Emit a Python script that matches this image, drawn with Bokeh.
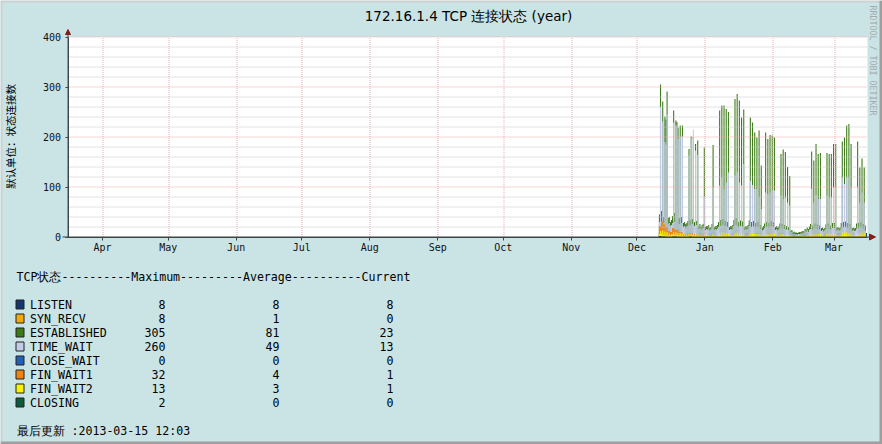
import math
import numpy as np
import pandas as pd
from bokeh.plotting import figure
from bokeh.models import (Range1d, LinearAxis, DatetimeAxis, MonthsTicker, DatetimeTickFormatter,
                          FixedTicker, Label, BoxAnnotation, Arrow, NormalHead, ColumnDataSource)
from bokeh.embed import file_html
from bokeh.resources import INLINE

# ---------------- data ----------------
data_start = "2012-12-11"          # first day with samples; one night-sample and one day-sample per day
range_start = "2012-03-16 00:00"
range_end = "2013-03-16 06:00"

y_ticks = [0, 100, 200, 300, 400]
y_minor = [20, 40, 60, 80, 120, 140, 160, 180, 220, 240, 260, 280, 320, 340, 360, 380]

# ESTABLISHED, daytime peak (Dec 11 .. Mar 15)
est_hi = [305, 271, 241, 291, 40, 34, 253, 233, 219, 223, 223, 30, 28, 176, 201, 200, 186, 193, 26, 24, 179,
          22, 24, 20, 184, 22, 24, 253, 263, 263, 256, 250, 22, 24, 276, 286, 273, 239, 255, 22, 24,
          239, 229, 209, 199, 213, 143, 22, 209, 196, 204, 203,
          199, 22, 21, 166, 175, 170, 140, 122, 14, 11, 9, 9, 10, 12, 16, 19, 21, 171, 153, 186,
          166, 168, 19, 18, 168, 166, 166, 186,
          186, 20, 19, 191, 199, 223, 226, 186, 19, 18, 191, 139, 157, 139, float("nan")]
# ESTABLISHED, night level
est_lo = [45, 52, 40, 235, 38, 30, 42, 48, 230, 38, 40, 28, 26, 32, 34, 36, 30, 32, 22, 20, 26,
          20, 22, 18, 26, 20, 22, 30, 34, 36, 32, 30, 20, 22, 34, 38, 30, 33, 31, 20, 22,
          33, 30, 32, 28, 30, 24, 19, 27, 30, 28, 32,
          30, 20, 19, 27, 26, 24, 22, 20, 13, 10, 9, 8, 10, 11, 12, 15, 16, 26, 23, 27,
          25, 23, 18, 16, 25, 27, 23, 28,
          28, 19, 18, 28, 30, 31, 28, 26, 18, 17, 27, 28, 30, 26, 23]
# TIME_WAIT, daytime peak
tw_hi = [260, 231, 190, 246, 28, 24, 229, 224, 196, 201, 201, 22, 20, 163, 197, 215, 173, 164, 18, 17, 80,
         16, 17, 15, 99, 16, 17, 103, 119, 96, 109, 129, 16, 17, 123, 130, 109, 103, 146, 16, 17,
         113, 104, 96, 96, 79, 56, 15, 89, 86, 89, 93,
         93, 16, 15, 83, 76, 79, 69, 63, 10, 7, 6, 6, 7, 8, 12, 14, 15, 96, 69, 84,
         76, 76, 14, 13, 83, 79, 79, 99,
         99, 15, 14, 119, 106, 119, 119, 99, 14, 13, 99, 69, 89, 69, float("nan")]
# TIME_WAIT, night level
tw_lo = [30, 32, 28, 185, 26, 22, 28, 30, 220, 26, 28, 20, 18, 22, 24, 26, 22, 24, 16, 15, 18,
         14, 15, 13, 18, 14, 15, 20, 22, 24, 22, 20, 14, 15, 22, 24, 20, 22, 21, 14, 15,
         22, 20, 21, 19, 20, 16, 13, 18, 20, 19, 21,
         20, 14, 13, 18, 17, 16, 15, 14, 9, 6, 5, 5, 6, 7, 8, 10, 10, 16, 15, 17,
         16, 15, 12, 11, 16, 17, 15, 18,
         18, 13, 12, 18, 19, 20, 18, 17, 12, 12, 17, 18, 19, 17, 13]
listen = [8, 8, 8, 8, 8, 8, 8, 8, 8, 8, 8, 8, 8, 8, 8, 8, 8, 8, 8, 8, 8,
          8, 8, 8, 8, 8, 8, 8, 8, 8, 8, 8, 8, 8, 8, 8, 8, 8, 8, 8, 8,
          8, 8, 8, 8, 8, 8, 8, 8, 8, 8, 8,
          8, 8, 8, 8, 8, 8, 8, 8, 8, 8, 8, 8, 8, 8, 8, 8, 8, 8, 8, 8,
          8, 8, 8, 8, 8, 8, 8, 8,
          8, 8, 8, 8, 8, 8, 8, 8, 8, 8, 8, 8, 8, 8, 8]
syn_recv = [8, 4, 3, 2, 0, 0, 3, 2, 2, 1, 1, 0, 0, 1, 1, 1, 1, 1, 0, 0, 1,
            0, 0, 0, 1, 0, 0, 1, 1, 1, 1, 1, 0, 0, 1, 1, 1, 1, 1, 0, 0,
            1, 1, 1, 1, 1, 0, 0, 1, 1, 1, 1,
            1, 0, 0, 1, 1, 1, 1, 1, 0, 0, 0, 0, 0, 0, 0, 0, 0, 1, 1, 1,
            1, 1, 0, 0, 1, 1, 1, 1,
            1, 0, 0, 1, 1, 1, 1, 1, 0, 0, 1, 1, 1, 1, 0]
close_wait = [0, 0, 0, 0, 0, 0, 0, 0, 0, 0, 0, 0, 0, 0, 0, 0, 0, 0, 0, 0, 0,
              0, 0, 0, 0, 0, 0, 0, 0, 0, 0, 0, 0, 0, 0, 0, 0, 0, 0, 0, 0,
              0, 0, 0, 0, 0, 0, 0, 0, 0, 0, 0,
              0, 0, 0, 0, 0, 0, 0, 0, 0, 0, 0, 0, 0, 0, 0, 0, 0, 0, 0, 0,
              0, 0, 0, 0, 0, 0, 0, 0,
              0, 0, 0, 0, 0, 0, 0, 0, 0, 0, 0, 0, 0, 0, 0]
fin_wait1 = [22, 32, 25, 20, 12, 10, 18, 15, 14, 10, 9, 5, 4, 6, 7, 8, 6, 5, 3, 3, 4,
             2, 2, 2, 3, 2, 2, 4, 3, 3, 3, 4, 2, 2, 3, 3, 3, 2, 3, 1, 2,
             3, 3, 2, 3, 2, 2, 1, 3, 2, 3, 3,
             3, 2, 1, 3, 3, 2, 2, 2, 1, 1, 1, 1, 1, 1, 1, 2, 2, 3, 3, 4,
             3, 3, 2, 1, 3, 3, 4, 3,
             3, 2, 2, 3, 3, 3, 3, 2, 2, 1, 3, 3, 4, 3, 1]
# FIN_WAIT2, daytime and night
fin_wait2_hi = [12, 13, 11, 10, 7, 6, 10, 9, 8, 8, 7, 5, 4, 6, 7, 8, 7, 6, 4, 4, 5,
                3, 3, 2, 6, 3, 3, 8, 9, 9, 8, 7, 3, 3, 8, 9, 8, 7, 7, 3, 3,
                7, 7, 6, 6, 6, 5, 3, 6, 6, 6, 7,
                6, 3, 3, 6, 6, 5, 5, 4, 2, 1, 1, 1, 1, 2, 2, 3, 3, 6, 6, 7,
                6, 6, 3, 2, 7, 8, 6, 7,
                7, 3, 3, 8, 9, 9, 8, 7, 3, 3, 8, 8, 9, 8, float("nan")]
fin_wait2_lo = [6, 7, 5, 5, 3, 3, 5, 4, 4, 4, 3, 2, 2, 3, 3, 4, 3, 3, 2, 2, 2,
                1, 1, 1, 3, 1, 1, 4, 4, 4, 4, 3, 1, 1, 4, 4, 4, 3, 3, 1, 1,
                3, 3, 3, 3, 3, 2, 1, 3, 3, 3, 3,
                3, 1, 1, 3, 3, 2, 2, 2, 1, 0, 0, 0, 0, 1, 1, 1, 1, 3, 3, 3,
                3, 3, 1, 1, 3, 4, 3, 3,
                3, 1, 1, 4, 4, 4, 4, 3, 1, 1, 4, 4, 4, 4, 1]
closing = [2, 1, 1, 0, 0, 0, 1, 1, 0, 0, 0, 0, 0, 0, 1, 0, 0, 0, 0, 0, 0,
           0, 0, 0, 0, 0, 0, 0, 0, 0, 0, 0, 0, 0, 0, 0, 0, 0, 0, 0, 0,
           0, 0, 0, 0, 0, 0, 0, 0, 0, 0, 0,
           0, 0, 0, 0, 0, 0, 0, 0, 0, 0, 0, 0, 0, 0, 0, 0, 0, 0, 0, 0,
           0, 0, 0, 0, 0, 0, 0, 0,
           0, 0, 0, 0, 0, 0, 0, 0, 0, 0, 0, 0, 0, 0, 0]

legend_names = ["LISTEN", "SYN_RECV", "ESTABLISHED", "TIME_WAIT", "CLOSE_WAIT", "FIN_WAIT1", "FIN_WAIT2", "CLOSING"]
legend_max = [8, 8, 305, 260, 0, 32, 13, 2]
legend_avg = [8, 1, 81, 49, 0, 4, 3, 0]
legend_cur = [8, 0, 23, 13, 0, 1, 1, 0]

title_text = "172.16.1.4 TCP 连接状态 (year)"
y_label_text = "默认单位：状态连接数"
header_text = "TCP状态----------Maximum---------Average----------Current"
update_text = "最后更新 :2013-03-15 12:03"
watermark = "RRDTOOL / TOBI OETIKER"

# ---------------- styling ----------------
colors = ["#14366c", "#f2ab00", "#3b7a17", "#c2cbe8", "#2261b6", "#ee8412", "#f8f400", "#0d5b3b"]
BG = "#cae4e6"
AXIS_C = "#3c4446"
ARROW_C = "#851c1c"
MGRID = "#f0aaaa"
GRID = "#c4c4c4"

W, H = 882, 444
FL, FT, FW, FH = 67, 36.5, 800, 200      # plot area (pixels) inside the canvas


def ms(ts):
    return pd.Timestamp(ts).value / 1e6


X0, X1 = ms(range_start), ms(range_end)
Y0, Y1 = 0, 400


def px2x(px):
    return X0 + (px - FL) * (X1 - X0) / FW


def x2px(x):
    return FL + (x - X0) * FW / (X1 - X0)


def py2y(py):
    return Y0 + (FT + FH - py) * (Y1 - Y0) / FH


def snap(x, off=0.0):
    return px2x(round(x2px(x)) + off)


p = figure(width=W, height=H, output_backend="svg", toolbar_location=None,
           x_axis_type=None, y_axis_type=None,
           x_range=Range1d(px2x(0), px2x(W)), y_range=Range1d(py2y(H), py2y(0)),
           min_border_left=0, min_border_right=0, min_border_top=0, min_border_bottom=0)
p.background_fill_color = BG
p.border_fill_color = BG
p.outline_line_color = None
p.grid.visible = False

# white canvas of the graph
p.add_layout(BoxAnnotation(left=X0, right=X1, bottom=Y0, top=Y1, fill_color="white",
                           fill_alpha=1.0, line_color=None, level="underlay"))

# ---------------- overdrawn areas (rrdtool AREA order) ----------------
LO_FRAC = 0.5
day0 = pd.Timestamp(data_start)
n = len(est_hi)
lefts, rights = [], []
for d in range(n):
    a = ms(day0 + pd.Timedelta(days=d))
    m = ms(day0 + pd.Timedelta(days=d + LO_FRAC))
    b = ms(day0 + pd.Timedelta(days=d + 1))
    lefts += [a, m]
    rights += [m, b]


def tops(lo, hi=None):
    hi = lo if hi is None else hi
    out = []
    for d in range(n):
        out += [lo[d], hi[d]]
    return out


series = [
    tops(listen), tops(syn_recv), tops(est_lo, est_hi), tops(tw_lo, tw_hi),
    tops(close_wait), tops(fin_wait1), tops(fin_wait2_lo, fin_wait2_hi), tops(closing),
]
for vals, c in zip(series, colors):
    src = ColumnDataSource(dict(left=lefts, right=rights, top=vals, bottom=[0] * len(vals)))
    p.quad(left="left", right="right", top="top", bottom="bottom", source=src,
           fill_color=c, line_color=None)

# ---------------- grid (drawn over the data, like rrdtool) ----------------
month_ticks = [snap(ms(t), 0.5) for t in pd.date_range("2012-04-01", "2013-03-01", freq="MS")]
p.segment(x0=[X0] * len(y_minor), x1=[X1] * len(y_minor), y0=y_minor, y1=y_minor,
          line_color=GRID, line_dash="1 1", line_width=1)
p.segment(x0=[X0] * 4, x1=[X1] * 4, y0=y_ticks[1:], y1=y_ticks[1:],
          line_color=MGRID, line_dash="1 1", line_width=1)
p.segment(x0=month_ticks, x1=month_ticks, y0=[Y0] * len(month_ticks), y1=[Y1] * len(month_ticks),
          line_color=MGRID, line_dash="1 1", line_width=1)

# ---------------- axes ----------------
xaxis = DatetimeAxis(ticker=MonthsTicker(months=list(range(12))),
                     formatter=DatetimeTickFormatter(months="%b", days="%b", years="%b"),
                     fixed_location=Y0, bounds=(X0, X1))
xaxis.axis_line_color = AXIS_C
xaxis.major_tick_line_color = AXIS_C
xaxis.major_tick_out = 3
xaxis.major_tick_in = 0
xaxis.minor_tick_line_color = None
xaxis.major_label_standoff = 2
xaxis.major_label_text_font = "DejaVu Sans Mono"
xaxis.major_label_text_font_size = "10px"
xaxis.major_label_text_color = "#111111"
p.add_layout(xaxis, "below")

yaxis = LinearAxis(ticker=FixedTicker(ticks=y_ticks), fixed_location=px2x(67.5), bounds=(Y0, Y1))
yaxis.axis_line_color = AXIS_C
yaxis.major_tick_line_color = AXIS_C
yaxis.major_tick_out = 3
yaxis.major_tick_in = 0
yaxis.minor_tick_line_color = None
yaxis.major_label_standoff = 4
yaxis.major_label_text_font = "DejaVu Sans Mono"
yaxis.major_label_text_font_size = "10px"
yaxis.major_label_text_color = "#111111"
p.add_layout(yaxis, "left")

# axis arrows (extend beyond the graph like rrdtool)
p.add_layout(Arrow(end=NormalHead(size=6, fill_color=ARROW_C, line_color=ARROW_C),
                   x_start=px2x(62), y_start=Y0, x_end=px2x(875), y_end=Y0,
                   line_color=AXIS_C, line_width=1))
p.add_layout(Arrow(end=NormalHead(size=5, fill_color=ARROW_C, line_color=ARROW_C),
                   x_start=px2x(67.5), y_start=Y0, x_end=px2x(67.5), y_end=py2y(29),
                   line_color=AXIS_C, line_width=1))


# ---------------- 3D border ----------------
def box(x0, y0, x1, y1, fill, line=None):
    p.add_layout(BoxAnnotation(left=px2x(x0), right=px2x(x1), top=py2y(y0), bottom=py2y(y1),
                               fill_color=fill, fill_alpha=1.0,
                               line_color=line, line_alpha=1.0, line_width=1))


box(0, 0, W, 2, "#cfcfcf")
box(0, 0, 2, H, "#cfcfcf")
box(W - 3, 0, W, H, "#9e9e9e")
box(0, H - 3, W, H, "#9e9e9e")


# ---------------- texts ----------------
def label(px, py, text, size, font="DejaVu Sans Mono", align="left", color="#000000", angle=0.0):
    p.add_layout(Label(x=px2x(px), y=py2y(py), text=text, text_font=font, text_font_size=size,
                       text_align=align, text_baseline="middle", text_color=color, angle=angle))


label(468, 15, title_text, "13.5px", font="DejaVu Sans", align="center")
label(10, 136, y_label_text, "10.5px", font="Noto Sans CJK SC", align="center", angle=math.pi / 2)
label(872.5, 5, watermark, "8.3px", align="left", color="#a2acae", angle=-math.pi / 2)

label(16, 276, header_text, "11.6px")
for i, name in enumerate(legend_names):
    yy = 304 + 14 * i
    box(15.5, yy - 4.5, 23.5, yy + 4.5, colors[i], line="#222222")
    label(29.5, yy, name, "11.6px")
    label(165, yy, str(legend_max[i]), "11.6px", align="right")
    label(279, yy, str(legend_avg[i]), "11.6px", align="right")
    label(393, yy, str(legend_cur[i]), "11.6px", align="right")
label(16, 430.5, update_text, "11.6px")

open("out.html", "w").write(file_html(p, INLINE))
